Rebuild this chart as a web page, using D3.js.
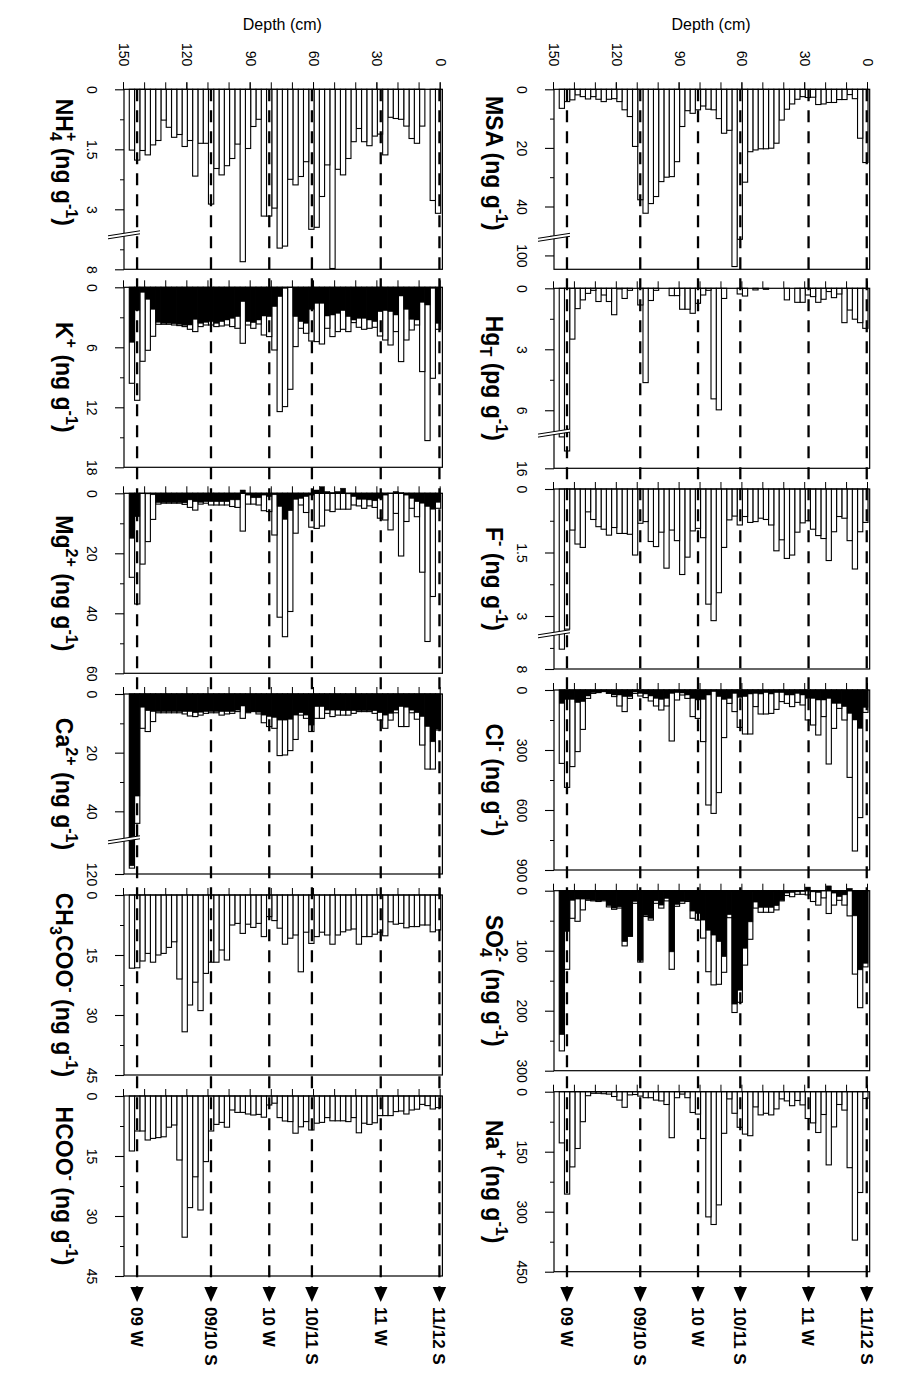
<!DOCTYPE html>
<html>
<head>
<meta charset="utf-8">
<script src="https://cdn.jsdelivr.net/npm/d3@7/dist/d3.min.js"></script>
<style>
html,body{margin:0;padding:0;background:#fff;}
svg{display:block;}
</style>
</head>
<body>
<svg id="chart" width="915" height="1374"></svg>
<script>
// ---------------- DATA ----------------
// bars: 59 samples of 2.5 cm each, index 0 = surface (0-2.5 cm)
const barCm = 2.5;
const depthTicks = [0,10,20,30,40,50,60,70,80,90,100,110,120,130,140,150];
const depthLabels = [0,30,60,90,120,150];
const seasons = ["11/12 S","11 W","10/11 S","10 W","09/10 S","09 W"];
const seasonDepths = [0.6, 28.4, 61.0, 81.2, 108.8, 143.8];

const MSA = [25,16.7,3.2,1.8,3.5,3.5,4.5,4.5,5.0,5.2,2.7,2.8,2.5,3.4,5,6.8,10.5,18.4,20.1,20.3,20.3,20.7,21.3,31.7,94.5,103.8,14,15,10,7,6.8,5.7,7,8.2,7.3,12.7,24.7,29.8,30,31.5,36.6,39,42.3,37.7,19.5,9.3,7,4.2,3.2,3.4,4.2,3.4,2.5,3.3,2.5,1.9,3.6,4.2,6.5];
const HgT = [1.97,1.69,1.52,1.07,1.69,0.28,0.46,0.16,0.54,0.69,0.41,0.33,0.69,0.69,0,0.57,0,0,0,0.05,0,0.08,0,0.38,0.28,0,0,0.5,5.98,5.44,0.1,0.33,0.74,1.23,1.03,1.03,0.36,0.36,0,0,0.1,0.6,4.64,0.82,0,0.1,0.5,0.03,1.3,0.65,0.33,0.65,0.1,0.25,0.57,1.0,2.5,15.15,14.46];
const Fl = [0.79,1.01,1.89,1.22,0.69,0.65,1.01,1.69,1.17,1.1,0.95,0.75,0.8,1.02,1.56,1.64,1.2,1.46,0.85,0.72,0.69,0.77,0.79,0.65,0.85,0.64,0.73,1.38,2.45,3.11,2.72,1.15,0.93,0.99,1.61,2.02,1.22,0.97,1.87,1.02,1.36,1.24,0.77,0.81,1.56,1.07,1.05,1.05,0.91,1.09,0.95,0.89,0.72,0.54,1.38,1.3,0.97,3.31,7.53];
const Cl = [112,638,805,437,150,92,192,370,133,225,175,150,75,62,83,67,58,97,117,120,120,83,220,220,187,108,67,238,513,617,575,258,142,133,42,25,50,255,80,100,80,55,38,30,17,42,108,80,33,17,8,13,17,42,197,308,383,487,367];
const ClNss = [87,192,150,117,83,67,67,42,50,50,42,42,25,17,25,25,13,13,20,13,20,17,20,33,37,17,42,47,33,8,25,47,50,42,25,15,13,17,42,47,42,30,20,17,10,33,33,25,25,15,8,13,13,30,58,63,47,47,67];
const SO4 = [127,195,139,42,24,16,24,38,12,24,18,7,6,6,10,8,17,32,36,36,36,29,81,124,186,203,45,136,156,157,135,79,49,46,18,21,26,131,17,29,21,49,43,119,21,76,92,29,31,27,17,18,17,16,32,51,46,131,267];
const SO4Nss = [121,132,42,-4,7,10,4,-8,0,3,2,-6,1,2,3,4,16,25,28,28,28,19,52,96,166,189,40,110,85,74,66,49,38,34,17,18,23,102,13,24,17,46,41,116,18,76,85,27,29,25,16,17,16,15,14,14,16,68,240];
const Na = [17,252,371,190,46,32,88,183,57,102,78,67,33,22,35,23,18,43,58,54,58,38,110,106,89,54,18,104,283,332,313,117,56,52,15,6,15,115,32,23,21,15,15,11,7,8,39,21,12,6,5,4,4,10,75,142,188,256,128];
const NH4 = [3.1,2.78,0,0.92,1.35,1.23,0.92,0.75,0.73,0.7,1.64,1.12,1.17,1.41,1.31,0.98,1.31,1.73,2.14,2.0,7.98,1.89,2.68,3.45,3.5,1.81,2.18,2.39,2.25,7.42,7.47,2.97,3.17,3.17,0.75,0.93,1.48,7.81,1.37,1.73,1.91,2.14,1.98,2.87,1.35,1.35,2.17,1.28,1.43,1.13,1.2,0.95,0.77,1.28,1.39,1.64,1.53,1.77,1.52];
const K = [4.2,9.1,15.33,8.43,3.77,4.27,5.27,7.43,4.43,5.77,5.27,4.87,4.0,4.1,4.2,4.0,3.53,4.43,4.2,4.43,4.93,4.1,5.67,5.43,5.37,4.6,4.1,5.93,10.2,11.93,12.43,6.27,4.93,4.77,3.67,4.1,3.77,5.6,4.1,3.93,3.77,3.87,3.93,3.77,3.77,3.93,4.43,4.2,3.93,3.83,3.77,3.7,3.7,3.7,4.9,6.3,7.4,11.3,9.6];
const KNss = [3.6,0.1,1.77,1.5,3.27,3.2,2.2,0.87,2.77,2.43,2.33,2.43,3.43,3.27,3.1,3.1,3.27,2.93,2.33,2.6,2.77,2.87,1.6,1.6,2.2,3.6,3.43,2.93,0,0.1,0.93,1.93,2.93,2.87,3.27,3.53,3.43,1.43,2.93,3.1,3.27,3.43,3.6,3.43,3.5,3.6,3.2,3.77,3.8,3.7,3.65,3.6,3.6,3.5,2.2,1.2,0.5,2.3,5.5];
const Mg = [5.0,34.4,49.4,26.3,7.8,5.0,9.4,20.9,6.7,12.2,8.9,8.3,4.7,4.2,5.0,4.2,3.9,5.3,5.3,5.3,6.1,5.6,10.9,11.7,11.3,6.4,3.9,13.3,39.4,47.8,41.3,13.9,6.1,5.8,3.9,3.6,3.6,12.6,4.7,4.4,3.9,3.9,3.9,3.9,3.3,3.6,5.6,4.7,3.7,3.3,3.3,3.3,3.3,3.6,8.7,16.1,23.6,36.9,28];
const MgNss = [3,5.3,4.4,3.3,2.8,1.7,0.6,-0.2,-0.6,0,0.6,1.7,2.5,2.2,2,2,1.1,0.2,-1.7,-0.6,-0.2,-0.6,-2.2,-1.1,0.6,1.1,1.7,2,5.8,8.7,4.4,0.5,1.1,0.6,1.5,1.5,0.6,-1.1,2.2,2.2,2.8,2.8,2.8,2.8,2.8,3,2.8,2.2,3.2,3.1,3.1,3.1,3.1,3.1,0.5,0.2,0,7.8,15];
const Ca = [12.3,25.6,25.6,17.4,8.6,6.4,11.1,11.1,6.4,8.9,11.7,8.9,6.6,6.0,6.0,6.0,6.6,7.2,7.2,7.2,7.7,6.6,8.3,8.3,12.8,8.3,7.2,15.5,19.3,20.8,21,11.7,11.1,9.8,6.8,6.0,6.4,8.3,6.0,6.6,6.8,7.2,6.4,6.4,6.6,7.2,7.7,7.5,6.8,6.4,6.4,6.4,6.4,6.4,9.4,12.8,11.7,44.1,118];
const CaNss = [12,16.3,11.1,7.7,6.4,5.5,4.5,4.3,5.5,6.6,7.2,6.4,5.7,5.7,5.7,5.7,5.7,5.7,5.7,5.5,5.5,5.5,4.3,4.3,10.6,7.2,6.4,7.2,8.6,8.9,8.9,8,7.7,7.2,6.2,5.9,6.2,4.1,5.5,6,6,6,6,6,6,6.2,6.4,6,6,6,6,6,6,6,6,5.7,4.5,34.8,117.2];
const CH3COO = [8.75,9.2,7.5,7.5,7.9,7.9,8.2,7.1,7.3,6.7,10.2,9.3,9.8,10.4,10.4,12.3,8.5,8.75,9.2,10,12.3,10,9.3,10.4,12.1,9.3,19.2,10,10.8,12.3,8.3,6.4,5.4,10.4,7.1,8.1,7.3,9.6,7.1,7.5,16.25,13.75,16.8,16.8,19.6,28.9,21.8,27.5,34.2,21,11.7,13.1,14.6,15,16.8,14.6,16.5,18.2,18.3];
const HCOO = [2.9,3.25,2.4,2.1,3.3,3.5,4.5,3.75,3.9,4.9,4.9,4.9,6.7,7.1,6.8,9.2,5.4,6.4,6.2,6.2,6.2,5.4,6.6,6.8,8.5,6.4,7.7,9.3,6.4,6.25,5.4,1.8,2.25,5.3,4.6,4.75,4.5,4.1,4.1,3.5,7.8,6.6,7.1,8.75,16.4,28.5,20.2,27.9,35.3,16,7.25,7.8,10.2,10.4,10.6,11,8.75,8.75,13.75];

// ---------------- LAYOUT (drawn in landscape, rotated 90deg) ----------------
const W = 915, H = 1374;
const FONT = '"Liberation Sans", Arial, Helvetica, sans-serif';
const rows = [
  { zeros: [89.3, 288.3, 489, 690, 890.7, 1091.7], d0: 47, d150: 361 },
  { zeros: [89.3, 287.3, 493.3, 694, 895, 1096], d0: 474.3, d150: 791 }
];
const PANEL_LEN = 180;
const unitNg = [[" (ng g"],["-1","sup"],[")"]];
const unitPg = [[" (pg g"],["-1","sup"],[")"]];

const panels = [
  {row:0,col:0,label:[["MSA"]].concat(unitNg), total:MSA, dom:[0,50,93.3,104.5], rng:[0,146.5,146.5,179.3], ticks:[0,20,40,100], minor:[10,30,50], brk:true, lab:74},
  {row:0,col:1,label:[["Hg"],["T","sub"]].concat(unitPg), total:HgT, dom:[0,7.05,14.2,16], rng:[0,143.3,143.3,180], ticks:[0,3,6,16], minor:[1.5,4.5], brk:true},
  {row:0,col:2,label:[["F"],["-","sup"]].concat(unitNg), total:Fl, dom:[0,3.385,7.13,8], rng:[0,143.3,143.3,180], ticks:[0,1.5,3,8], minor:[0.75,2.25,7.5], brk:true},
  {row:0,col:3,label:[["Cl"],["-","sup"]].concat(unitNg), total:Cl, black:ClNss, dom:[0,900], rng:[0,180], ticks:[0,300,600,900], minor:[150,450,750]},
  {row:0,col:4,label:[["SO"],["4","sub"],["2-","sup",-9]].concat(unitNg), total:SO4, black:SO4Nss, dom:[0,300], rng:[0,180], ticks:[0,100,200,300], minor:[50,150,250]},
  {row:0,col:5,label:[["Na"],["+","sup"]].concat(unitNg), total:Na, dom:[0,450], rng:[0,180], ticks:[0,150,300,450], minor:[75,225,375]},
  {row:1,col:0,label:[["NH"],["4","sub"],["+","sup",-9]].concat(unitNg), total:NH4, dom:[0,3.6,7.1,8], rng:[0,144,144,180], ticks:[0,1.5,3,8], minor:[0.75,2.25,7.5], brk:true, lab:73},
  {row:1,col:1,label:[["K"],["+","sup"]].concat(unitNg), total:K, black:KNss, dom:[0,18], rng:[0,180], ticks:[0,6,12,18], minor:[3,9,15]},
  {row:1,col:2,label:[["Mg"],["2+","sup"]].concat(unitNg), total:Mg, black:MgNss, dom:[0,60], rng:[0,180], ticks:[0,20,40,60], minor:[10,30,50]},
  {row:1,col:3,label:[["Ca"],["2+","sup"]].concat(unitNg), total:Ca, black:CaNss, dom:[0,49.2,107.8,120], rng:[0,144.3,144.3,180], ticks:[0,20,40,120], minor:[10,30], brk:true},
  {row:1,col:4,label:[["CH"],["3","sub"],["COO"],["-","sup"]].concat(unitNg), total:CH3COO, dom:[0,45], rng:[0,180], ticks:[0,15,30,45], minor:[7.5,22.5,37.5]},
  {row:1,col:5,label:[["HCOO"],["-","sup"]].concat(unitNg), total:HCOO, dom:[0,45], rng:[0,180], ticks:[0,15,30,45], minor:[7.5,22.5,37.5]}
];

const svg = d3.select("#chart");
svg.append("rect").attr("width",W).attr("height",H).attr("fill","#fff");
const root = svg.append("g").attr("transform", `translate(${W},0) rotate(90)`)
  .attr("font-family", FONT);

rows.forEach(R => { R.yD = d3.scaleLinear().domain([0,150]).range([R.d0, R.d150]); });

// ---- bars ----
panels.forEach(p => {
  const R = rows[p.row];
  const x0 = R.zeros[p.col];
  const yD = R.yD;
  p.x0 = x0;
  p.xV = d3.scaleLinear().domain(p.dom).range(p.rng.map(r => x0 + r));
  const g = root.append("g");
  const by = i => yD(i*barCm), bh = i => yD((i+1)*barCm) - yD(i*barCm);
  g.append("g").selectAll("rect").data(p.total).join("rect")
    .attr("x", d => Math.min(p.xV(0), p.xV(d)))
    .attr("y", (d,i) => by(i))
    .attr("width", d => Math.abs(p.xV(d) - p.xV(0)))
    .attr("height", (d,i) => bh(i))
    .attr("fill","#fff").attr("stroke","#000").attr("stroke-width",1.1);
  if (p.black) {
    g.append("g").selectAll("rect").data(p.black).join("rect")
      .attr("x", d => Math.min(p.xV(0), p.xV(d)))
      .attr("y", (d,i) => by(i))
      .attr("width", d => Math.abs(p.xV(d) - p.xV(0)))
      .attr("height", (d,i) => bh(i))
      .attr("fill","#000").attr("stroke","#000").attr("stroke-width",0.5);
  }
});

// ---- season dashed lines, arrows, labels ----
rows.forEach(R => {
  const g = root.append("g");
  g.selectAll("line").data(seasonDepths).join("line")
    .attr("x1", R.zeros[0]).attr("x2", 1287)
    .attr("y1", d => R.yD(d)).attr("y2", d => R.yD(d))
    .attr("stroke","#000").attr("stroke-width",2.3).attr("stroke-dasharray","12,9");
  g.selectAll("path").data(seasonDepths).join("path")
    .attr("d", d => { const y = R.yD(d); return `M1287,${y-6.7}L1302,${y}L1287,${y+6.7}Z`; })
    .attr("fill","#000");
  g.selectAll("text").data(seasons).join("text")
    .attr("x", 1307).attr("y", (d,i) => R.yD(seasonDepths[i]))
    .attr("dy","0.36em")
    .attr("font-size",17).attr("font-weight","bold").text(d => d);
});

// ---- frames, axes, titles ----
function addLabel(text, parts, fs) {
  let cur = 0;
  parts.forEach(pt => {
    const [t, mode, dx] = pt;
    const target = mode === "sup" ? -0.42*fs : mode === "sub" ? 0.28*fs : 0;
    const ts = text.append("tspan").text(t).attr("dy", target - cur);
    if (mode) ts.attr("font-size", fs*0.7);
    if (dx) ts.attr("dx", dx);
    cur = target;
  });
}

panels.forEach(p => {
  const R = rows[p.row];
  const x0 = p.x0, yD = R.yD;
  const yTop = yD(-0.8);
  root.append("rect").attr("x",x0).attr("y",yTop).attr("width",PANEL_LEN)
    .attr("height",R.d150 - yTop).attr("fill","none").attr("stroke","#000").attr("stroke-width",1.2);

  const ax = root.append("g").attr("transform",`translate(0,${R.d150})`)
    .call(d3.axisBottom(p.xV).tickValues(p.ticks).tickSize(9).tickPadding(18).tickSizeOuter(0).tickFormat(d => String(d)));
  ax.select(".domain").remove();
  ax.attr("font-size",14).attr("font-family",FONT);
  ax.selectAll("line").attr("stroke-width",1.1);

  const mx = root.append("g").attr("transform",`translate(0,${R.d150})`)
    .call(d3.axisBottom(p.xV).tickValues(p.minor).tickSize(4).tickSizeOuter(0).tickFormat(""));
  mx.select(".domain").remove();

  const dax = root.append("g").attr("transform",`translate(${x0},0)`)
    .call(d3.axisLeft(yD).tickValues(depthTicks).tickSize(7).tickSizeOuter(0).tickFormat(""));
  dax.select(".domain").remove();
  if (p.col === 0) {
    const dl = root.append("g").attr("transform",`translate(${x0},0)`)
      .call(d3.axisLeft(yD).tickValues(depthLabels).tickSize(7).tickPadding(16).tickSizeOuter(0).tickFormat(d => String(d)));
    dl.select(".domain").remove();
    dl.attr("font-size",14).attr("font-family",FONT);
    root.append("text").attr("transform",`translate(30,${yD(75)}) rotate(-90)`)
      .attr("text-anchor","middle").attr("font-size",16).text("Depth (cm)");
  }
  if (p.brk) {
    const gx = x0 + p.rng[1], yb = R.d150;
    root.append("path")
      .attr("d", `M${gx+2.5},${yb+16}L${gx-2.5},${yb-16}L${gx+0.5},${yb-16}L${gx+5.5},${yb+16}Z`)
      .attr("fill","#fff").attr("stroke","none");
    root.append("line").attr("x1",gx+2.5).attr("y1",yb+16).attr("x2",gx-2.5).attr("y2",yb-16).attr("stroke","#000").attr("stroke-width",1);
    root.append("line").attr("x1",gx+5.5).attr("y1",yb+16).attr("x2",gx+0.5).attr("y2",yb-16).attr("stroke","#000").attr("stroke-width",1);
  }
  const t = root.append("text")
    .attr("x", x0 + (p.lab || 90)).attr("y", R.d150 + 68)
    .attr("text-anchor","middle").attr("font-size",23).attr("font-weight","bold");
  addLabel(t, p.label, 23);
});
</script>
</body>
</html>
